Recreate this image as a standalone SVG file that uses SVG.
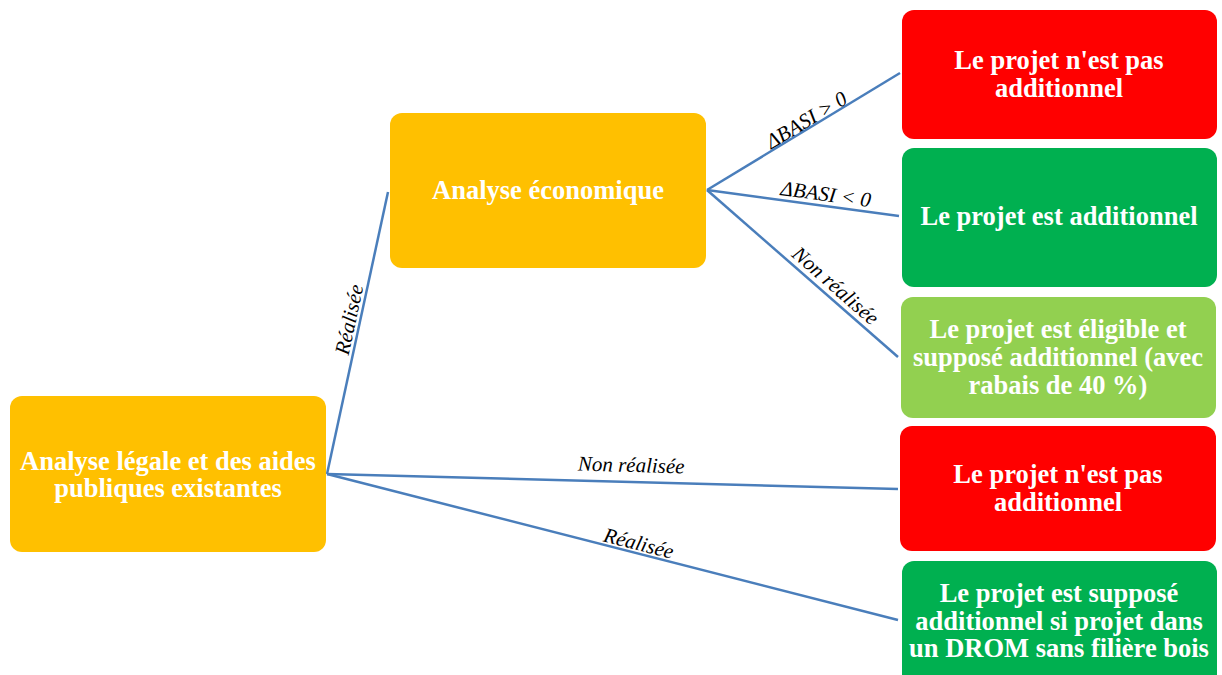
<svg xmlns="http://www.w3.org/2000/svg" width="1222" height="675" viewBox="0 0 1222 675">
<style>
.box{stroke:none}
.y{fill:#FFC000}
.r{fill:#FF0000}
.g{fill:#00B050}
.lg{fill:#92D050}
.t{font-family:"Liberation Serif",serif;font-weight:bold;font-size:26.5px;fill:#fff;text-anchor:middle}
.c{stroke:#4A7EBB;stroke-width:2.5;fill:none}
.l{font-family:"Liberation Serif",serif;font-style:italic;font-size:21px;fill:#000;text-anchor:middle}
</style>
<rect width="1222" height="675" fill="#fff"/>
<g id="connectors">
<line class="c" x1="327" y1="474" x2="388" y2="192"/>
<line class="c" x1="327" y1="474" x2="898" y2="489"/>
<line class="c" x1="327" y1="474" x2="898" y2="620"/>
<line class="c" x1="707" y1="190" x2="900" y2="73"/>
<line class="c" x1="707" y1="190" x2="899" y2="216"/>
<line class="c" x1="707" y1="190" x2="898" y2="357"/>
<text class="l" transform="translate(356,321) rotate(-77.8)">Réalisée</text>
<text class="l" transform="translate(631,472) rotate(1.5)">Non réalisée</text>
<text class="l" transform="translate(637,550) rotate(14.3)">Réalisée</text>
<text class="l" transform="translate(810,126) rotate(-31.2)">ΔBASI &gt; 0</text>
<text class="l" transform="translate(825,201) rotate(7.7)">ΔBASI &lt; 0</text>
<text class="l" transform="translate(831,291) rotate(41.2)">Non réalisée</text>
</g>
<g id="n1"><rect class="box y" x="10" y="396" width="316" height="156" rx="12"/>
<text class="t" x="168" y="470">Analyse légale et des aides</text>
<text class="t" x="168" y="497">publiques existantes</text></g>
<g id="n2"><rect class="box y" x="390" y="113" width="316" height="155" rx="12"/>
<text class="t" x="548" y="199">Analyse économique</text></g>
<g id="n3"><rect class="box r" x="902" y="10" width="315" height="129" rx="12"/>
<text class="t" x="1059" y="69">Le projet n'est pas</text>
<text class="t" x="1059" y="97">additionnel</text></g>
<g id="n4"><rect class="box g" x="902" y="148" width="315" height="139" rx="12"/>
<text class="t" x="1059" y="225">Le projet est additionnel</text></g>
<g id="n5"><rect class="box lg" x="901" y="297" width="315" height="121" rx="12"/>
<text class="t" x="1058" y="338">Le projet est éligible et</text>
<text class="t" x="1058" y="366">supposé additionnel (avec</text>
<text class="t" x="1058" y="394">rabais de 40 %)</text></g>
<g id="n6"><rect class="box r" x="900" y="426" width="316" height="125" rx="12"/>
<text class="t" x="1058" y="483">Le projet n'est pas</text>
<text class="t" x="1058" y="511">additionnel</text></g>
<g id="n7"><rect class="box g" x="902" y="561" width="315" height="130" rx="12"/>
<text class="t" x="1059" y="602">Le projet est supposé</text>
<text class="t" x="1059" y="630">additionnel si projet dans</text>
<text class="t" x="1059" y="657">un DROM sans filière bois</text></g>
</svg>
